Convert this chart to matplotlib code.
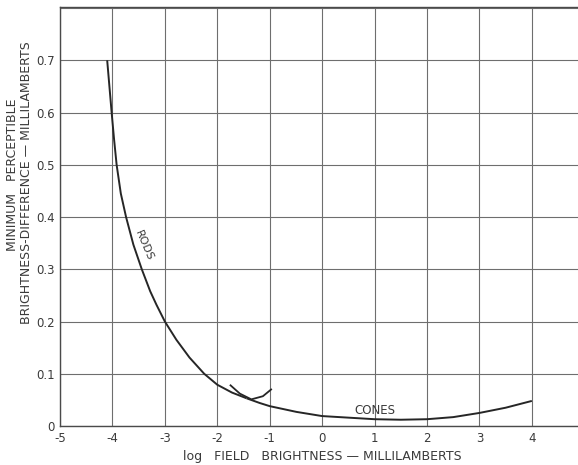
import matplotlib.pyplot as plt

# main curve, rods part
rods_x = [-4.10, -4.015, -3.97, -3.92, -3.84, -3.74, -3.60, -3.44, -3.28, -3.16, -3.00,
          -2.78, -2.53, -2.25, -2.00, -1.72, -1.44]
rods_y = [0.700, 0.600, 0.550, 0.500, 0.445, 0.400, 0.347, 0.300, 0.258, 0.232, 0.200,
          0.165, 0.131, 0.100, 0.079, 0.064, 0.053]

# main curve continues into the cones part
cones_x = [-1.44, -1.19, -1.00, -0.49, 0.0, 0.5, 1.0, 1.5, 2.0, 2.5, 3.0, 3.5, 4.0]
cones_y = [0.053, 0.044, 0.038, 0.027, 0.019, 0.016, 0.013, 0.012, 0.013, 0.017, 0.025, 0.035, 0.048]

# short cone branch near -1.5
branch_x = [-1.76, -1.57, -1.35, -1.13, -0.96]
branch_y = [0.079, 0.062, 0.051, 0.057, 0.071]

x_ticks = [-5, -4, -3, -2, -1, 0, 1, 2, 3, 4]
x_tick_labels = ['-5', '-4', '-3', '-2', '-1', '0', '1', '2', '3', '4']
y_ticks = [0, 0.1, 0.2, 0.3, 0.4, 0.5, 0.6, 0.7]
y_tick_labels = ['0', '0.1', '0.2', '0.3', '0.4', '0.5', '0.6', '0.7']

ink = '#262626'
grid_col = '#6e6e6e'
txt = '#3a3a3a'

fig = plt.figure(figsize=(5.78, 4.65), dpi=100)
ax = fig.add_axes([60 / 578, 39 / 465, 518 / 578, 419 / 465])

ax.plot(rods_x, rods_y, color=ink, lw=1.4, solid_capstyle='butt')
ax.plot(cones_x, cones_y, color=ink, lw=1.4, solid_capstyle='butt')
ax.plot(branch_x, branch_y, color=ink, lw=1.3, solid_capstyle='butt')

ax.set_xlim(-5, 4.88)
ax.set_ylim(0, 0.802)
ax.set_xticks(x_ticks)
ax.set_xticklabels(x_tick_labels)
ax.set_yticks(y_ticks + [0.8])
ax.set_yticklabels(y_tick_labels + [''])
ax.grid(True, color=grid_col, lw=0.8)
ax.tick_params(length=0, labelsize=8.5, labelcolor=txt, pad=4)
for s in ['left', 'top', 'bottom']:
    ax.spines[s].set_color('#4a4a4a')
    ax.spines[s].set_linewidth(1.0)
ax.spines['right'].set_visible(False)

ax.text(-3.40, 0.345, 'RODS', rotation=-67, fontsize=8, color=txt,
        ha='center', va='center')
ax.text(1.0, 0.029, 'CONES', fontsize=8.5, color=txt, ha='center', va='center')

fig.text(322 / 578, 1 - 456 / 465, 'log   FIELD   BRIGHTNESS \u2014 MILLILAMBERTS',
         fontsize=9, color=txt, ha='center', va='center')
fig.text(13 / 578, 1 - 175 / 465, 'MINIMUM   PERCEPTIBLE', rotation=90,
         fontsize=9, color=txt, ha='center', va='center')
fig.text(27 / 578, 1 - 183 / 465, 'BRIGHTNESS-DIFFERENCE \u2014 MILLILAMBERTS', rotation=90,
         fontsize=9, color=txt, ha='center', va='center')

fig.savefig('out.png', dpi=100)
